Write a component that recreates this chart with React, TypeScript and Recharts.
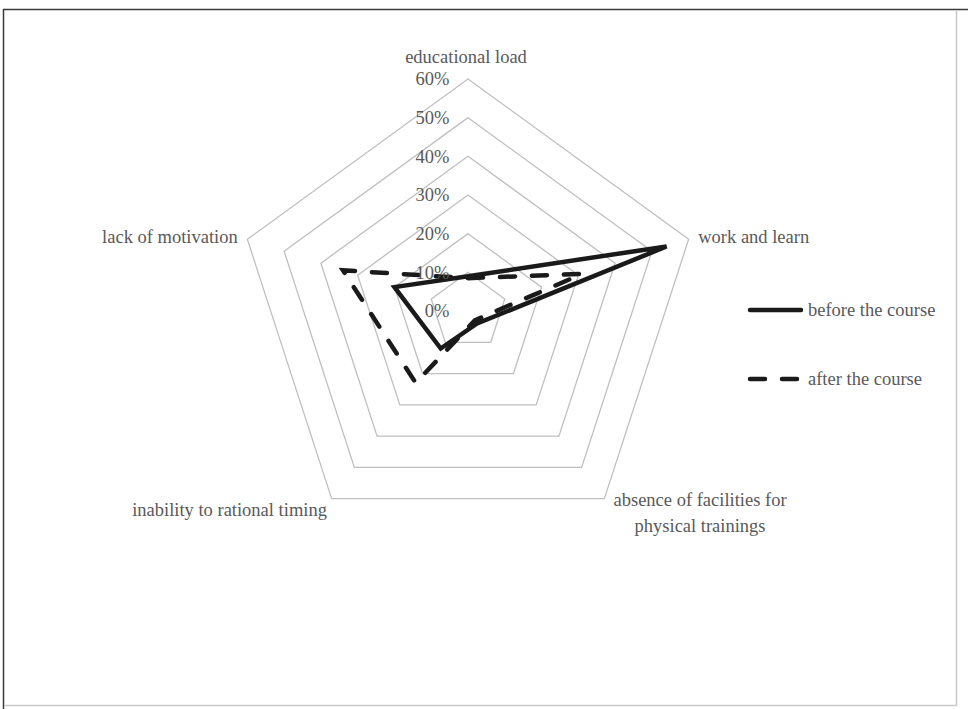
import React from 'react';
import { RadarChart, Radar, PolarGrid, PolarAngleAxis, PolarRadiusAxis, Legend } from 'recharts';

const categories = [
  'educational load',
  'work and learn',
  'absence of facilities for\nphysical trainings',
  'inability to rational timing',
  'lack of motivation',
];
const beforeCourse = [9, 54, 4, 12, 20];
const afterCourse = [8.5, 31, 3, 23, 34];
const radiusTicks = [0, 10, 20, 30, 40, 50, 60];
const seriesNames = ['before the course', 'after the course'];

const data = categories.map((c, i) => ({ axis: c, before: beforeCourse[i], after: afterCourse[i] }));

const FONT = '"Liberation Serif", "Times New Roman", serif';
const TEXT = '#595959';
const LINE = '#1a1a1a';
const DASH = '15 17';
const FS = 18.5;
const SW = 4.5;

const labelStyle: { dx: number; dy: number; anchor: 'start' | 'middle' | 'end' }[] = [
  { dx: -2, dy: -14, anchor: 'middle' },
  { dx: 2, dy: 0, anchor: 'start' },
  { dx: 91, dy: -6, anchor: 'middle' },
  { dx: 0, dy: 4, anchor: 'end' },
  { dx: -2, dy: 0, anchor: 'end' },
];

function AngleTick(props: any) {
  const { x, y, payload, index } = props;
  const s = labelStyle[index] ?? { dx: 0, dy: 0, anchor: 'middle' };
  const lines = String(payload.value).split('\n');
  return (
    <text x={x + s.dx} y={y + s.dy} textAnchor={s.anchor} fill={TEXT} fontFamily={FONT} fontSize={FS}>
      {lines.map((l, k) => (
        <tspan key={k} x={x + s.dx} dy={k === 0 ? '0.35em' : 26}>
          {l}
        </tspan>
      ))}
    </text>
  );
}

function RadiusTick(props: any) {
  const { x, y, payload } = props;
  return (
    <text x={x - 18.5} y={y} dy="0.35em" textAnchor="end" fill={TEXT} fontFamily={FONT} fontSize={FS}>
      {`${payload.value}%`}
    </text>
  );
}

function LegendContent() {
  return (
    <div style={{ fontFamily: FONT, fontSize: FS, color: TEXT }}>
      {seriesNames.map((n, i) => (
        <div
          key={n}
          style={{ display: 'flex', alignItems: 'center', height: 22, marginBottom: i === 0 ? 47 : 0 }}
        >
          <svg width={58} height={22} style={{ display: 'block' }}>
            <line
              x1={4}
              x2={55}
              y1={11}
              y2={11}
              stroke={LINE}
              strokeWidth={SW}
              strokeLinecap="round"
              strokeDasharray={i === 1 ? DASH : undefined}
            />
          </svg>
          <span style={{ marginLeft: 4, whiteSpace: 'nowrap', lineHeight: '22px' }}>{n}</span>
        </div>
      ))}
    </div>
  );
}

export default function App() {
  return (
    <div style={{ position: 'absolute', left: 0, top: 0, width: 968, height: 709, background: '#fff' }}>
      <svg width={968} height={709} style={{ position: 'absolute', left: 0, top: 0 }}>
        <line x1={3} y1={9.5} x2={968} y2={9.5} stroke="#3a3a3a" strokeWidth={1.5} />
        <line x1={3.5} y1={9} x2={3.5} y2={709} stroke="#3a3a3a" strokeWidth={1.5} />
        <line x1={956.5} y1={10} x2={956.5} y2={705} stroke="#c8c8c8" strokeWidth={1.5} />
        <line x1={4} y1={705.5} x2={957} y2={705.5} stroke="#c8c8c8" strokeWidth={1.5} />
      </svg>
      <div style={{ position: 'absolute', left: 0, top: 0 }}>
        <RadarChart
          width={968}
          height={709}
          cx={468}
          cy={311}
          outerRadius={232}
          margin={{ top: 0, right: 0, bottom: 0, left: 0 }}
          data={data}
        >
          <PolarGrid gridType="polygon" radialLines={false} stroke="#bfbfbf" strokeWidth={1.3} />
          <PolarAngleAxis dataKey="axis" tick={AngleTick} tickLine={false} axisLine={false} />
          <PolarRadiusAxis
            angle={90}
            domain={[0, 60]}
            ticks={radiusTicks as any}
            tickCount={radiusTicks.length}
            axisLine={false}
            tick={RadiusTick}
          />
          <Radar
            name={seriesNames[0]}
            dataKey="before"
            stroke={LINE}
            strokeWidth={SW}
            fill="none"
            fillOpacity={0}
            dot={false}
            isAnimationActive={false}
          />
          <Radar
            name={seriesNames[1]}
            dataKey="after"
            stroke={LINE}
            strokeWidth={SW}
            strokeDasharray={DASH}
            strokeLinecap="round"
            fill="none"
            fillOpacity={0}
            dot={false}
            isAnimationActive={false}
          />
          <Legend
            content={<LegendContent />}
            wrapperStyle={{ position: 'absolute', left: 746, top: 299, width: 'auto' }}
          />
        </RadarChart>
      </div>
    </div>
  );
}
